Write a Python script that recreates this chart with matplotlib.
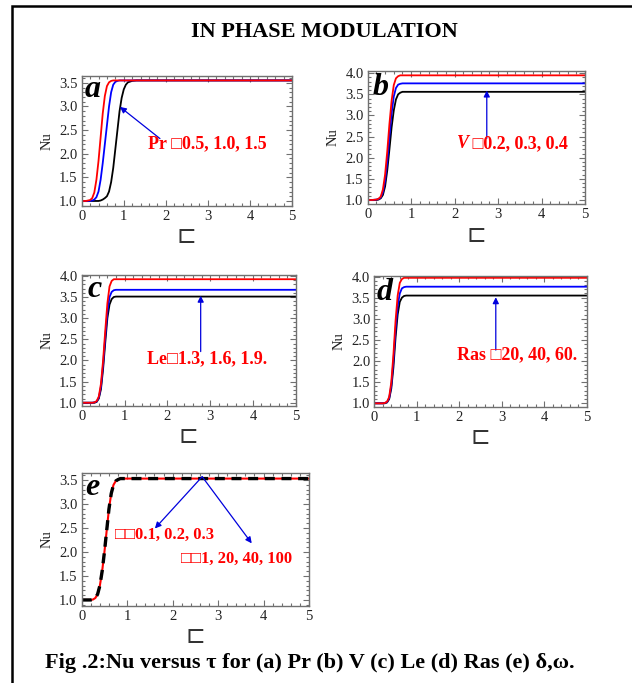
import matplotlib
matplotlib.use("Agg")
import matplotlib.pyplot as plt
from matplotlib.patches import Rectangle
from matplotlib.ticker import MultipleLocator, FormatStrFormatter

# ---------------- data ----------------
tau = [0, 0.1, 0.2, 0.25, 0.3, 0.35, 0.4, 0.45, 0.5, 0.55, 0.6, 0.65, 0.7,
       0.75, 0.8, 0.85, 0.9, 0.95, 1.0, 1.05, 1.1, 1.2, 1.3, 1.5, 5.0]

# (a) Pr = 0.5 (red), 1.0 (blue), 1.5 (black)
a_red = [1.00, 1.00, 1.02, 1.06, 1.18, 1.45, 1.85, 2.35, 2.85, 3.22, 3.43, 3.51, 3.54, 3.55] + [3.55] * 11
a_blue = [1.00, 1.00, 1.00, 1.01, 1.03, 1.08, 1.20, 1.45, 1.80, 2.20, 2.60, 3.00, 3.30, 3.46, 3.52, 3.54] + [3.55] * 9
a_black = [1.00, 1.00, 1.00, 1.00, 1.00, 1.00, 1.00, 1.01, 1.03, 1.06, 1.10, 1.20, 1.40, 1.70, 2.10, 2.50,
           2.90, 3.18, 3.36, 3.46, 3.51, 3.54, 3.55, 3.55, 3.55]

# (b) V
b_red = [1.00, 1.00, 1.01, 1.03, 1.08, 1.25, 1.60, 2.15, 2.80, 3.35, 3.72, 3.88, 3.93, 3.95] + [3.95] * 11
b_blue = [1.00, 1.00, 1.01, 1.02, 1.06, 1.18, 1.45, 1.90, 2.50, 3.05, 3.45, 3.65, 3.73, 3.75, 3.76] + [3.76] * 10
b_black = [1.00, 1.00, 1.00, 1.01, 1.04, 1.12, 1.32, 1.70, 2.20, 2.72, 3.12, 3.38, 3.50, 3.54, 3.56] + [3.56] * 10

# (c) Le
c_red = [1.00, 1.00, 1.00, 1.00, 1.01, 1.04, 1.15, 1.45, 2.00, 2.70, 3.35, 3.75, 3.88, 3.92] + [3.92] * 11
c_blue = [1.00, 1.00, 1.00, 1.00, 1.01, 1.03, 1.12, 1.38, 1.90, 2.55, 3.15, 3.50, 3.62, 3.66, 3.67] + [3.67] * 10
c_black = [1.00, 1.00, 1.00, 1.00, 1.00, 1.02, 1.10, 1.32, 1.80, 2.42, 3.00, 3.32, 3.45, 3.50, 3.51] + [3.51] * 10

# (d) Ras
d_red = [1.00, 1.00, 1.00, 1.01, 1.04, 1.15, 1.50, 2.15, 2.95, 3.55, 3.85, 3.94, 3.97] + [3.97] * 12
d_blue = [1.00, 1.00, 1.00, 1.01, 1.03, 1.12, 1.42, 2.00, 2.75, 3.30, 3.60, 3.72, 3.75, 3.76] + [3.76] * 11
d_black = [1.00, 1.00, 1.00, 1.00, 1.02, 1.10, 1.35, 1.85, 2.55, 3.10, 3.40, 3.50, 3.54, 3.55] + [3.55] * 11

# (e) delta, omega (all curves coincide)
e_curve = [1.00, 1.00, 1.00, 1.01, 1.04, 1.12, 1.30, 1.60, 2.00, 2.45, 2.90, 3.22, 3.40, 3.48, 3.51, 3.53] + [3.53] * 9

panel_letters = ["a", "b", "c", "d", "e"]
ann_texts = ["Pr \u25a10.5, 1.0, 1.5", "V \u25a10.2, 0.3, 0.4", "Le\u25a11.3, 1.6, 1.9.",
             "Ras \u25a120, 40, 60.", "\u25a1\u25a10.1, 0.2, 0.3", "\u25a1\u25a11, 20, 40, 100"]
title_text = "IN PHASE MODULATION"
caption_text = "Fig .2:Nu versus \u03c4 for (a) Pr (b) V (c) Le (d) Ras (e) \u03b4,\u03c9."
xlabel_text = "\u228f"
ylabel_text = "Nu"

# ---------------- figure ----------------
W, H = 632, 683
fig = plt.figure(figsize=(W / 100, H / 100), dpi=100)
fig.patch.set_facecolor("white")

SERIF = ["Liberation Serif", "DejaVu Serif"]
FRAME = "#707070"


def px_axes(l, t, r, b):
    return fig.add_axes([l / W, 1 - b / H, (r - l) / W, (b - t) / H])


def style(ax, ylim):
    ax.set_xlim(0, 5)
    ax.set_ylim(*ylim)
    ax.xaxis.set_major_locator(MultipleLocator(1))
    ax.xaxis.set_minor_locator(MultipleLocator(0.2))
    ax.yaxis.set_major_locator(MultipleLocator(0.5))
    ax.yaxis.set_minor_locator(MultipleLocator(0.1))
    ax.yaxis.set_major_formatter(FormatStrFormatter("%.1f"))
    ax.xaxis.set_major_formatter(FormatStrFormatter("%d"))
    ax.tick_params(which="both", direction="in", top=True, right=True, colors=FRAME,
                   labelcolor="#222222", width=0.8)
    ax.tick_params(which="major", length=4, pad=3)
    ax.tick_params(which="minor", length=2)
    for lab in ax.get_xticklabels() + ax.get_yticklabels():
        lab.set_family(SERIF)
        lab.set_fontsize(10.5)
    for s in ax.spines.values():
        s.set_color(FRAME)
        s.set_linewidth(1.0)
    ax.set_ylabel(ylabel_text, family=SERIF, fontsize=10.5, color="#222222", labelpad=4)
    ax.set_xlabel(xlabel_text, family=["DejaVu Sans"], fontsize=17, color="#333333", labelpad=1)


def letter(ax, s, x, y):
    ax.text(x, y, s, transform=ax.transAxes, family=SERIF, fontsize=23,
            fontweight="bold", fontstyle="italic", va="baseline", ha="left", zorder=5)


def label(ax, s, x, y, size=13):
    ax.text(x, y, s, family=SERIF + ["DejaVu Sans"], fontsize=size, fontweight="bold",
            color="red", va="center", ha="left", zorder=6)


def arrow(ax, head, tail):
    ax.annotate("", xy=head, xytext=tail,
                arrowprops=dict(arrowstyle="-|>", color="#0000dd", lw=0.9,
                                mutation_scale=9, shrinkA=0, shrinkB=0), zorder=6)


LW = 1.3

# (a)
ax = px_axes(81.7, 75.7, 292, 205.7)
ax.plot(tau, a_black, color="black", lw=LW)
ax.plot(tau, a_blue, color="blue", lw=LW)
ax.plot(tau, a_red, color="red", lw=LW)
style(ax, (0.9, 3.65))
letter(ax, panel_letters[0], 0.016, 0.836)
arrow(ax, (0.91, 2.99), (1.86, 2.32))
label(ax, ann_texts[0], 1.58, 2.22)

# (b)
ax = px_axes(367.7, 70.7, 585, 204)
ax.plot(tau, b_black, color="black", lw=LW)
ax.plot(tau, b_blue, color="blue", lw=LW)
ax.plot(tau, b_red, color="red", lw=LW)
style(ax, (0.905, 4.06))
letter(ax, panel_letters[1], 0.024, 0.818)
arrow(ax, (2.74, 3.59), (2.74, 2.46))
ax.text(2.05, 2.34, ann_texts[1][0], family=SERIF, fontsize=13, fontweight="bold",
        fontstyle="italic", color="red", va="center", ha="left", zorder=6)
label(ax, ann_texts[1][1:], 2.3, 2.34)

# (c)
ax = px_axes(81.7, 275, 295.7, 405.7)
ax.plot(tau, c_black, color="black", lw=LW)
ax.plot(tau, c_blue, color="blue", lw=LW)
ax.plot(tau, c_red, color="red", lw=LW)
style(ax, (0.93, 4.02))
letter(ax, panel_letters[2], 0.025, 0.829)
arrow(ax, (2.78, 3.53), (2.78, 2.21))
label(ax, ann_texts[2], 1.53, 2.03)

# (d)
ax = px_axes(374.3, 275.7, 586.7, 406.7)
ax.plot(tau, d_black, color="black", lw=LW)
ax.plot(tau, d_blue, color="blue", lw=LW)
ax.plot(tau, d_red, color="red", lw=LW)
style(ax, (0.92, 4.02))
letter(ax, panel_letters[3], 0.011, 0.815)
arrow(ax, (2.86, 3.51), (2.86, 2.26))
label(ax, ann_texts[3], 1.95, 2.16)

# (e)
ax = px_axes(81.7, 473.3, 309, 605.7)
ax.plot(tau, e_curve, color="red", lw=1.5)
ax.plot(tau, e_curve, color="black", lw=2.4, ls=(0, (3, 2)))
style(ax, (0.88, 3.64))
letter(ax, panel_letters[4], 0.015, 0.836)
arrow(ax, (1.61, 2.49), (2.65, 3.57))
arrow(ax, (3.74, 2.18), (2.65, 3.57))
label(ax, ann_texts[4], 0.73, 2.35, size=12)
label(ax, ann_texts[5], 2.18, 1.85, size=12)

# title / caption / frame
fig.text(324 / W, 1 - 32 / H, title_text, family=SERIF, fontsize=16, fontweight="bold",
         ha="center", va="center")
fig.text(310 / W, 1 - 663 / H, caption_text, family=SERIF, fontsize=16, fontweight="bold",
         ha="center", va="center")
fig.add_artist(Rectangle((12 / W, -0.05), 1.1, 1.05 - 6 / H, transform=fig.transFigure,
                         fill=False, edgecolor="black", lw=1.8))

fig.savefig("out.png", dpi=100)
